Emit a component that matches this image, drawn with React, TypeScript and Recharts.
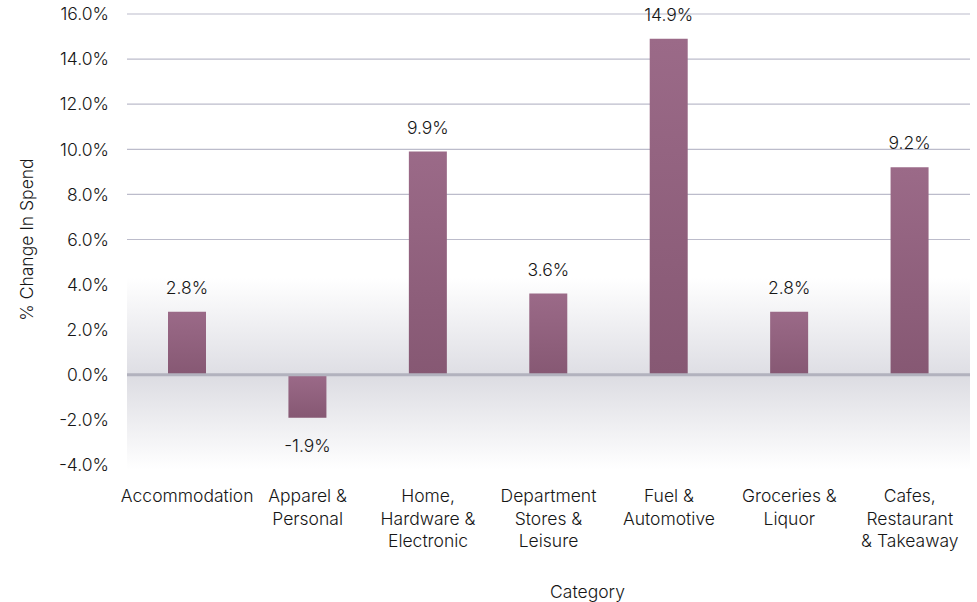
import React from "react";
import { BarChart, Bar, XAxis, YAxis, CartesianGrid, ReferenceLine, ReferenceArea, LabelList, Label } from "recharts";

const categories = [
    "Accommodation",
    "Apparel & Personal",
    "Home, Hardware & Electronic",
    "Department Stores & Leisure",
    "Fuel & Automotive",
    "Groceries & Liquor",
    "Cafes, Restaurant & Takeaway",
];
const tickLines = [
    ["Accommodation"],
    ["Apparel &", "Personal"],
    ["Home,", "Hardware &", "Electronic"],
    ["Department", "Stores &", "Leisure"],
    ["Fuel &", "Automotive"],
    ["Groceries &", "Liquor"],
    ["Cafes,", "Restaurant", "& Takeaway"],
];
const changes = [2.8, -1.9, 9.9, 3.6, 14.9, 2.8, 9.2];
const yTicks = [-4, -2, 0, 2, 4, 6, 8, 10, 12, 14, 16];

const data = categories.map((category, i) => ({ category, change: changes[i] }));

const FONT = "Inter, 'Liberation Sans', Arial, sans-serif";
const FS = 17.5;
const TXT = "#161616";
const pct = (v: number) => `${v.toFixed(1)}%`;

const CategoryTick = (props: any) => {
    const { x, y, index } = props;
    const lines = tickLines[index] || [];
    return (
        <text x={x} y={y} textAnchor="middle" fontFamily={FONT} fontSize={FS} fontWeight={300} fill={TXT}>
            {lines.map((line, i) => (
                <tspan key={i} x={x} dy={i === 0 ? 21 : 22.5}>
                    {line}
                </tspan>
            ))}
        </text>
    );
};

const ValueLabel = (props: any) => {
    const { x, y, width, height, value } = props;
    const cx = x + width / 2;
    const top = Math.min(y, y + height);
    const bottom = Math.max(y, y + height);
    const ty = value < 0 ? bottom + 34 : top - 18;
    return (
        <text x={cx} y={ty} textAnchor="middle" fontFamily={FONT} fontSize={FS} fontWeight={300} fill={TXT}>
            {pct(value)}
        </text>
    );
};

export default function App() {
    return (
        <div style={{ position: "absolute", left: 0, top: 0, background: "#fff" }}>
            <BarChart width={977} height={602} data={data} margin={{ top: 14, right: 7, bottom: 0, left: 0 }}>
                <defs>
                    <linearGradient id="bgTop" x1="0" y1="0" x2="0" y2="1">
                        <stop offset="0%" stopColor="#ffffff" />
                        <stop offset="100%" stopColor="#dedee4" />
                    </linearGradient>
                    <linearGradient id="bgBottom" x1="0" y1="0" x2="0" y2="1">
                        <stop offset="0%" stopColor="#dcdce2" />
                        <stop offset="100%" stopColor="#ffffff" />
                    </linearGradient>
                    <linearGradient id="barFill" x1="0" y1="0" x2="0" y2="1">
                        <stop offset="0%" stopColor="#9b6a88" />
                        <stop offset="100%" stopColor="#865873" />
                    </linearGradient>
                </defs>
                <ReferenceArea y1={0} y2={4.3} fill="url(#bgTop)" fillOpacity={1} stroke="none" ifOverflow="extendDomain" />
                <ReferenceArea y1={-4.2} y2={0} fill="url(#bgBottom)" fillOpacity={1} stroke="none" ifOverflow="visible" />
                <CartesianGrid vertical={false} stroke="#bcbccb" strokeWidth={1.2} />
                <XAxis
                    dataKey="category"
                    axisLine={false}
                    tickLine={false}
                    interval={0}
                    height={137}
                    tickSize={0}
                    tickMargin={16}
                    tick={<CategoryTick />}
                >
                    <Label value="Category" position="insideBottom" offset={4} dx={39} fontFamily={FONT} fontSize={FS} fontWeight={300} fill={TXT} />
                </XAxis>
                <YAxis
                    domain={[-4, 16]}
                    ticks={yTicks}
                    allowDataOverflow
                    width={127}
                    axisLine={false}
                    tickLine={false}
                    tickSize={0}
                    tickMargin={18}
                    tickFormatter={pct}
                    tick={{ fontFamily: FONT, fontSize: FS, fontWeight: 300, fill: TXT }}
                >
                    <Label
                        value="% Change In Spend"
                        angle={-90}
                        position="insideLeft"
                        offset={27}
                        style={{ textAnchor: "middle" }}
                        fontFamily={FONT}
                        fontSize={FS}
                        fontWeight={300}
                        fill={TXT}
                    />
                </YAxis>
                <ReferenceLine y={0} stroke="#b2b2be" strokeWidth={3} />
                <Bar dataKey="change" fill="url(#barFill)" barSize={38} isAnimationActive={false}>
                    <LabelList dataKey="change" content={<ValueLabel />} />
                </Bar>
            </BarChart>
        </div>
    );
}
